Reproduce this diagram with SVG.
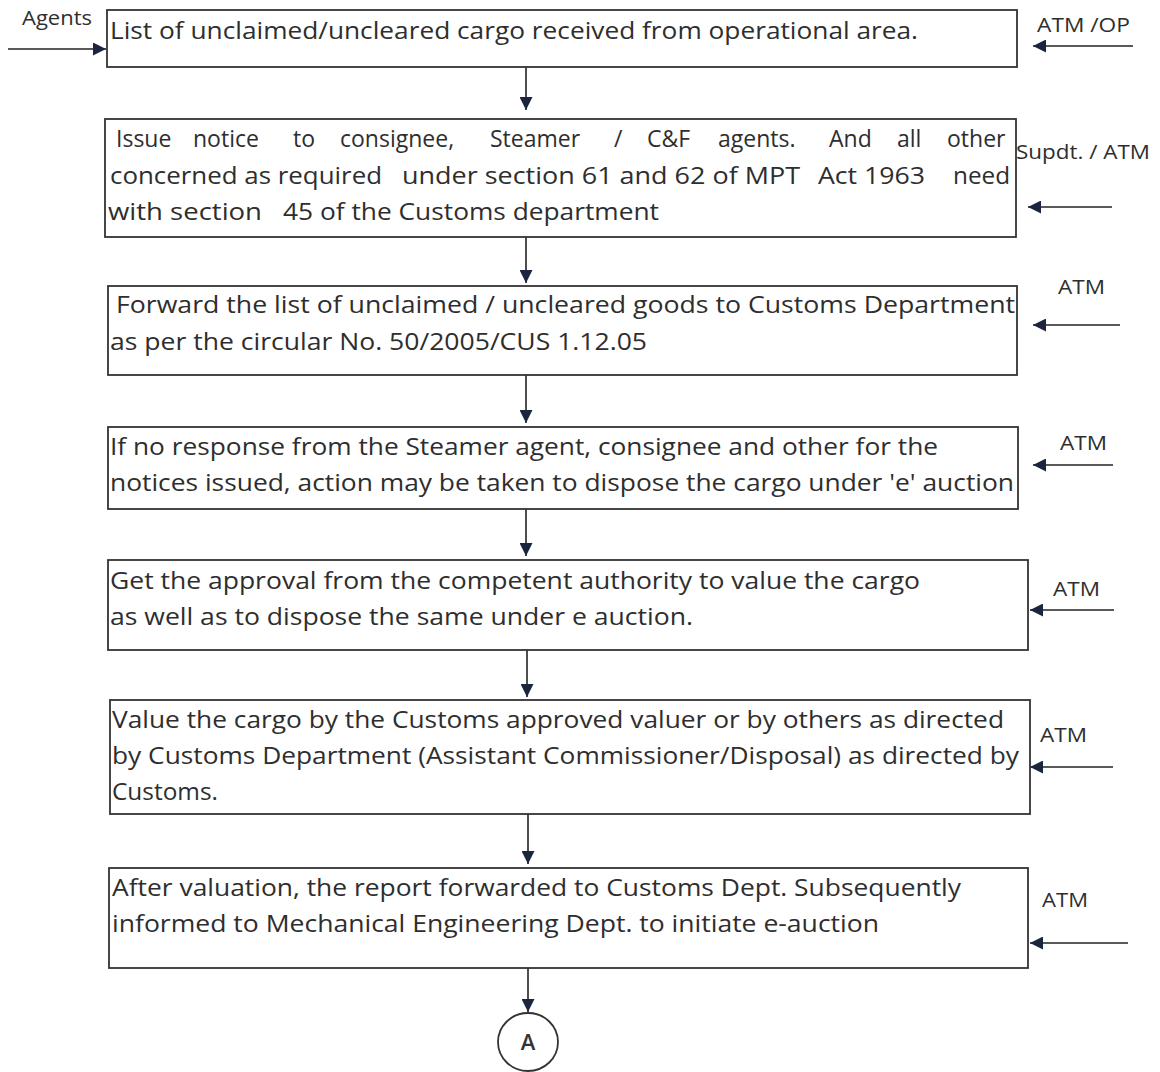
<svg xmlns="http://www.w3.org/2000/svg" width="1160" height="1072" viewBox="0 0 1160 1072">
<style>
.box{fill:#fff;stroke:#333;stroke-width:1.8}
.t{font-family:"Open Sans","Liberation Sans",sans-serif;font-size:23px;fill:#2e2e2e}
.lbl{font-family:"Open Sans","Liberation Sans",sans-serif;font-size:20px;fill:#2e2e2e}
.c{stroke:#222;stroke-width:1.6;fill:none}
</style>
<defs>
<marker id="ah2" viewBox="0 0 10 10" refX="10" refY="5" markerWidth="13" markerHeight="13" markerUnits="userSpaceOnUse" orient="auto">
<path d="M0,0 L10,5 L0,10 z" fill="#1c2540"/>
</marker>
</defs>
<rect width="1160" height="1072" fill="#fff"/>

<g id="connectors">
<line class="c" x1="526" y1="67" x2="526" y2="110" marker-end="url(#ah2)"/>
<line class="c" x1="526" y1="237" x2="526" y2="283" marker-end="url(#ah2)"/>
<line class="c" x1="526" y1="375" x2="526" y2="423" marker-end="url(#ah2)"/>
<line class="c" x1="526" y1="509" x2="526" y2="556" marker-end="url(#ah2)"/>
<line class="c" x1="527" y1="650" x2="527" y2="697" marker-end="url(#ah2)"/>
<line class="c" x1="528" y1="814" x2="528" y2="864" marker-end="url(#ah2)"/>
<line class="c" x1="528" y1="968" x2="528" y2="1012" marker-end="url(#ah2)"/>
<line class="c" x1="8" y1="49" x2="106" y2="49" marker-end="url(#ah2)"/>
<line class="c" x1="1133" y1="46" x2="1033" y2="46" marker-end="url(#ah2)"/>
<line class="c" x1="1112" y1="207" x2="1028" y2="207" marker-end="url(#ah2)"/>
<line class="c" x1="1120" y1="325" x2="1033" y2="325" marker-end="url(#ah2)"/>
<line class="c" x1="1113" y1="465" x2="1033" y2="465" marker-end="url(#ah2)"/>
<line class="c" x1="1114" y1="610" x2="1030" y2="610" marker-end="url(#ah2)"/>
<line class="c" x1="1113" y1="767" x2="1030" y2="767" marker-end="url(#ah2)"/>
<line class="c" x1="1128" y1="943" x2="1030" y2="943" marker-end="url(#ah2)"/>
</g>

<g id="labels">
<text class="lbl" x="22" y="25" textLength="70" lengthAdjust="spacingAndGlyphs">Agents</text>
<text class="lbl" x="1037" y="32" textLength="93" lengthAdjust="spacingAndGlyphs">ATM /OP</text>
<text class="lbl" x="1016" y="159" textLength="134" lengthAdjust="spacingAndGlyphs">Supdt. / ATM</text>
<text class="lbl" x="1058" y="294" textLength="47" lengthAdjust="spacingAndGlyphs">ATM</text>
<text class="lbl" x="1060" y="450" textLength="47" lengthAdjust="spacingAndGlyphs">ATM</text>
<text class="lbl" x="1053" y="596" textLength="47" lengthAdjust="spacingAndGlyphs">ATM</text>
<text class="lbl" x="1040" y="742" textLength="47" lengthAdjust="spacingAndGlyphs">ATM</text>
<text class="lbl" x="1042" y="907" textLength="46" lengthAdjust="spacingAndGlyphs">ATM</text>
</g>

<g id="n1">
<rect class="box" x="107" y="10" width="910" height="57"/>
<text class="t" x="110" y="39" textLength="808" lengthAdjust="spacingAndGlyphs">List of unclaimed/uncleared cargo received from operational area.</text>
</g>

<g id="n2">
<rect class="box" x="105" y="119" width="911" height="118"/>
<text class="t" y="147"><tspan x="116">Issue</tspan><tspan x="193">notice</tspan><tspan x="293">to</tspan><tspan x="340">consignee,</tspan><tspan x="490">Steamer</tspan><tspan x="614">/</tspan><tspan x="647">C&amp;F</tspan><tspan x="718">agents.</tspan><tspan x="829">And</tspan><tspan x="897">all</tspan><tspan x="947">other</tspan></text>
<text class="t" x="110" y="184" textLength="272" lengthAdjust="spacingAndGlyphs">concerned as required</text>
<text class="t" x="402" y="184" textLength="398" lengthAdjust="spacingAndGlyphs">under section 61 and 62 of MPT</text>
<text class="t" x="818" y="184" textLength="107" lengthAdjust="spacingAndGlyphs">Act 1963</text>
<text class="t" x="953" y="184" textLength="57" lengthAdjust="spacingAndGlyphs">need</text>
<text class="t" x="108" y="220" textLength="154" lengthAdjust="spacingAndGlyphs">with  section</text>
<text class="t" x="283" y="220" textLength="376" lengthAdjust="spacingAndGlyphs">45 of the Customs department</text>
</g>

<g id="n3">
<rect class="box" x="108" y="286" width="909" height="89"/>
<text class="t" x="116" y="313" textLength="899" lengthAdjust="spacingAndGlyphs">Forward the list of unclaimed / uncleared goods to Customs Department</text>
<text class="t" x="110" y="350" textLength="537" lengthAdjust="spacingAndGlyphs">as per the circular No. 50/2005/CUS 1.12.05</text>
</g>

<g id="n4">
<rect class="box" x="108" y="427" width="910" height="82"/>
<text class="t" x="110" y="455" textLength="828" lengthAdjust="spacingAndGlyphs">If no response from the Steamer agent, consignee and other for the</text>
<text class="t" x="110" y="491" textLength="904" lengthAdjust="spacingAndGlyphs">notices issued, action may be taken to dispose the cargo under 'e' auction</text>
</g>

<g id="n5">
<rect class="box" x="108" y="560" width="920" height="90"/>
<text class="t" x="110" y="589" textLength="810" lengthAdjust="spacingAndGlyphs">Get the approval from the competent authority to value the cargo</text>
<text class="t" x="110" y="625" textLength="583" lengthAdjust="spacingAndGlyphs">as well as to dispose the  same under e auction.</text>
</g>

<g id="n6">
<rect class="box" x="110" y="700" width="920" height="114"/>
<text class="t" x="112" y="728" textLength="892" lengthAdjust="spacingAndGlyphs">Value the cargo by the Customs approved valuer or by others as directed</text>
<text class="t" x="112" y="764" textLength="907" lengthAdjust="spacingAndGlyphs">by Customs Department (Assistant Commissioner/Disposal) as directed by</text>
<text class="t" x="112" y="800" textLength="106" lengthAdjust="spacingAndGlyphs">Customs.</text>
</g>

<g id="n7">
<rect class="box" x="109" y="868" width="919" height="100"/>
<text class="t" x="112" y="896" textLength="849" lengthAdjust="spacingAndGlyphs">After valuation, the report forwarded to Customs Dept. Subsequently</text>
<text class="t" x="112" y="932" textLength="767" lengthAdjust="spacingAndGlyphs">informed to Mechanical Engineering Dept. to initiate e-auction</text>
</g>

<g id="nA">
<ellipse cx="528" cy="1042" rx="30" ry="29" fill="#fff" stroke="#333" stroke-width="1.8"/>
<text x="528" y="1050" text-anchor="middle" font-family="'Open Sans','Liberation Sans',sans-serif" font-size="22" font-weight="600" fill="#333">A</text>
</g>
</svg>
